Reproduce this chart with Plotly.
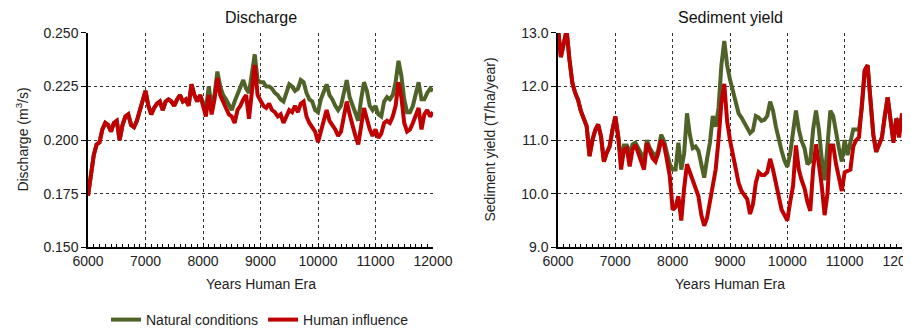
import plotly.graph_objects as go

years = list(range(6000, 12001, 50))

discharge_natural = [
    0.174, 0.185, 0.193, 0.198, 0.199, 0.205, 0.208, 0.207, 0.204, 0.208,
    0.209, 0.200, 0.207, 0.211, 0.212, 0.207, 0.206, 0.209, 0.214, 0.218,
    0.223, 0.216, 0.212, 0.215, 0.217, 0.218, 0.214, 0.218, 0.219, 0.218,
    0.216, 0.219, 0.221, 0.218, 0.219, 0.216, 0.226, 0.221, 0.218, 0.221,
    0.217, 0.214, 0.225, 0.216, 0.221, 0.232, 0.225, 0.221, 0.219, 0.216,
    0.214, 0.218, 0.221, 0.224, 0.228, 0.224, 0.222, 0.231, 0.240, 0.228,
    0.227, 0.227, 0.225, 0.225, 0.224, 0.222, 0.221, 0.219, 0.218, 0.222,
    0.226, 0.225, 0.223, 0.224, 0.228, 0.227, 0.222, 0.219, 0.218, 0.214,
    0.213, 0.219, 0.223, 0.226, 0.221, 0.219, 0.216, 0.214, 0.216, 0.222,
    0.228, 0.220, 0.216, 0.212, 0.209, 0.219, 0.227, 0.223, 0.216, 0.214,
    0.216, 0.212, 0.211, 0.218, 0.220, 0.219, 0.221, 0.227, 0.237, 0.230,
    0.219, 0.213, 0.213, 0.216, 0.222, 0.227, 0.219, 0.219, 0.222, 0.224,
    0.223,
]

discharge_human = [
    0.174, 0.185, 0.193, 0.198, 0.199, 0.205, 0.208, 0.207, 0.204, 0.208,
    0.209, 0.200, 0.207, 0.211, 0.212, 0.207, 0.206, 0.209, 0.214, 0.218,
    0.223, 0.216, 0.212, 0.215, 0.217, 0.218, 0.214, 0.218, 0.219, 0.218,
    0.216, 0.219, 0.221, 0.218, 0.219, 0.216, 0.226, 0.221, 0.218, 0.221,
    0.216, 0.211, 0.221, 0.212, 0.219, 0.229, 0.221, 0.218, 0.216, 0.212,
    0.211, 0.208, 0.214, 0.216, 0.219, 0.221, 0.210, 0.224, 0.235, 0.221,
    0.218, 0.216, 0.215, 0.217, 0.214, 0.213, 0.211, 0.212, 0.208, 0.211,
    0.214, 0.213, 0.216, 0.213, 0.217, 0.218, 0.211, 0.208, 0.206, 0.204,
    0.199, 0.205, 0.209, 0.214, 0.209, 0.207, 0.205, 0.202, 0.204, 0.211,
    0.218, 0.212, 0.206, 0.202, 0.198, 0.208, 0.215, 0.210, 0.205, 0.202,
    0.205, 0.201, 0.203, 0.208, 0.209, 0.208, 0.211, 0.216, 0.227, 0.220,
    0.208, 0.204, 0.205, 0.208, 0.211, 0.215, 0.205, 0.212, 0.214, 0.211,
    0.213,
]

sediment_natural = [
    13.1, 12.55, 12.8, 13.05, 12.5, 12.07, 11.88, 11.75, 11.54, 11.41,
    11.26, 10.7, 11.0, 11.19, 11.29, 11.07, 10.6, 10.76, 10.88, 11.19,
    11.44, 11.07, 10.6, 10.9, 10.9, 10.75, 10.92, 10.95, 10.85, 10.75,
    10.6, 11.0, 10.85, 10.75, 10.68, 10.82, 11.1, 10.98, 10.78, 10.55,
    10.45, 10.45, 10.95, 10.45, 10.75, 11.5, 11.1, 10.85, 10.88, 10.8,
    10.55, 10.3, 10.65, 10.95, 11.45, 11.25, 11.6, 12.4, 12.85, 12.4,
    12.13, 11.9, 11.7, 11.5, 11.42, 11.33, 11.22, 11.13, 11.18, 11.45,
    11.42, 11.36, 11.38, 11.45, 11.72, 11.55, 11.25, 11.0, 10.8, 10.62,
    10.5, 10.75, 11.15, 11.55, 11.2, 10.98, 10.85, 10.55, 10.6, 11.2,
    11.55, 11.2, 10.65, 10.25, 10.9, 11.55, 11.45, 11.1, 10.85, 10.6,
    11.0, 10.72, 10.95, 11.2, 11.2, 11.2, 11.6, 12.3, 12.4, 11.8,
    11.1, 10.78, 10.92, 11.05, 11.45, 11.8, 11.38, 11.0, 11.4, 11.35,
    11.4,
]

sediment_human = [
    13.1, 12.55, 12.8, 13.05, 12.5, 12.07, 11.88, 11.75, 11.54, 11.41,
    11.26, 10.7, 11.0, 11.19, 11.29, 11.07, 10.6, 10.76, 10.88, 11.19,
    11.44, 11.07, 10.45, 10.82, 10.85, 10.51, 10.82, 10.91, 10.76, 10.63,
    10.45, 10.94, 10.79, 10.66, 10.6, 10.76, 11.0, 10.91, 10.63, 10.32,
    9.7, 9.75, 9.95, 9.5, 10.1, 10.55, 10.4, 10.25, 10.05, 9.95,
    9.6, 9.4, 9.55, 9.82, 10.15, 10.45, 11.0, 11.7, 12.05, 11.35,
    11.0, 10.7, 10.45, 10.2, 10.05, 9.98, 9.9, 9.62, 9.8, 10.2,
    10.4, 10.35, 10.35, 10.4, 10.65, 10.45, 10.2, 9.9, 9.7, 9.6,
    9.5, 9.85, 10.15, 10.9, 10.45, 10.25, 10.1, 9.85, 9.68, 10.45,
    10.92, 10.55, 10.15, 9.6, 10.0, 10.9, 10.9, 10.55, 10.25, 10.05,
    10.4, 10.42, 10.45, 10.88, 11.0, 11.05, 11.6, 12.3, 12.4, 11.8,
    11.1, 10.78, 10.92, 11.05, 11.45, 11.8, 11.38, 10.95, 11.4, 11.05,
    11.5,
]

series_names = ["Natural conditions", "Human influence"]
x_ticks = [6000, 7000, 8000, 9000, 10000, 11000, 12000]

GREEN = "#4F6228"
RED = "#C00000"
FONT = "Liberation Sans, Arial, sans-serif"
LW = 4

fig = go.Figure()
fig.add_trace(go.Scatter(x=years, y=discharge_natural, mode="lines", name=series_names[0],
                         line=dict(color=GREEN, width=LW), xaxis="x", yaxis="y"))
fig.add_trace(go.Scatter(x=years, y=discharge_human, mode="lines", name=series_names[1],
                         line=dict(color=RED, width=LW), xaxis="x", yaxis="y"))
fig.add_trace(go.Scatter(x=years, y=sediment_natural, mode="lines", name=series_names[0],
                         line=dict(color=GREEN, width=LW), xaxis="x2", yaxis="y2",
                         showlegend=False))
fig.add_trace(go.Scatter(x=years, y=sediment_human, mode="lines", name=series_names[1],
                         line=dict(color=RED, width=LW), xaxis="x2", yaxis="y2",
                         showlegend=False))

W, H = 911, 328
OFF = 8  # page body margin offset


def px(v):
    return (v - OFF) / W


def py(v):
    return 1 - (v - OFF) / H


TXT = "#222222"
xcommon = dict(range=[6000, 12000], tickvals=x_ticks, tickformat="d", showgrid=True,
               gridcolor="#333333", griddash="dot", gridwidth=1,
               showline=True, linecolor="black", linewidth=1.5,
               ticks="inside", ticklen=5, tickcolor="black",
               minor=dict(dtick=100, ticks="inside", ticklen=4, tickcolor="black", showgrid=False),
               tickfont=dict(size=14, color=TXT, family=FONT), zeroline=False,
               ticklabeloverflow="allow",
               automargin=False, fixedrange=True)
ycommon = dict(showgrid=True, gridcolor="#333333", griddash="dot", gridwidth=1,
               showline=True, linecolor="black", linewidth=1.5,
               ticks="outside", ticklen=5, tickcolor="black",
               tickfont=dict(size=14, color=TXT, family=FONT), zeroline=False,
               automargin=False, fixedrange=True)

fig.update_layout(
    template="none",
    width=W, height=H,
    margin=dict(l=0, r=0, t=0, b=0, pad=0),
    paper_bgcolor="white", plot_bgcolor="white",
    font=dict(family=FONT, size=14, color=TXT),
    xaxis=dict(domain=[px(88), px(433)], anchor="y", **xcommon),
    yaxis=dict(domain=[py(248), py(33)], anchor="x", range=[0.150, 0.250],
               dtick=0.025, tick0=0.150, tickformat=".3f", **ycommon),
    xaxis2=dict(domain=[px(558), px(902)], anchor="y2", **xcommon),
    yaxis2=dict(domain=[py(248), py(33)], anchor="x2", range=[9.0, 13.0],
                dtick=1, tickformat=".1f", **ycommon),
    showlegend=True,
    legend=dict(orientation="h", x=px(106), y=py(321), xanchor="left", yanchor="middle",
                font=dict(size=14, color=TXT, family=FONT),
                itemwidth=30, tracegroupgap=0, bgcolor="rgba(0,0,0,0)", borderwidth=0),
    annotations=[
        dict(text="Discharge", x=px(260.5), y=py(18), xref="paper", yref="paper",
             xanchor="center", yanchor="middle",
             showarrow=False, font=dict(size=16, color="#111111", family=FONT)),
        dict(text="Sediment yield", x=px(730), y=py(18), xref="paper", yref="paper",
             xanchor="center", yanchor="middle",
             showarrow=False, font=dict(size=16, color="#111111", family=FONT)),
        dict(text="Years Human Era", x=px(260.5), y=py(285), xref="paper", yref="paper",
             xanchor="center", yanchor="middle",
             showarrow=False, font=dict(size=14, color=TXT, family=FONT)),
        dict(text="Years Human Era", x=px(730), y=py(285), xref="paper", yref="paper",
             xanchor="center", yanchor="middle",
             showarrow=False, font=dict(size=14, color=TXT, family=FONT)),
        dict(text="Discharge (m<sup>3</sup>/s)", x=px(22), y=py(140), xref="paper", yref="paper",
             xanchor="center", yanchor="middle",
             showarrow=False, textangle=-90, font=dict(size=14, color=TXT, family=FONT)),
        dict(text="Sediment yield (T/ha/year)", x=px(490), y=py(140), xref="paper", yref="paper",
             xanchor="center", yanchor="middle",
             showarrow=False, textangle=-90, font=dict(size=14, color=TXT, family=FONT)),
    ],
)

fig.write_html("out.html")
